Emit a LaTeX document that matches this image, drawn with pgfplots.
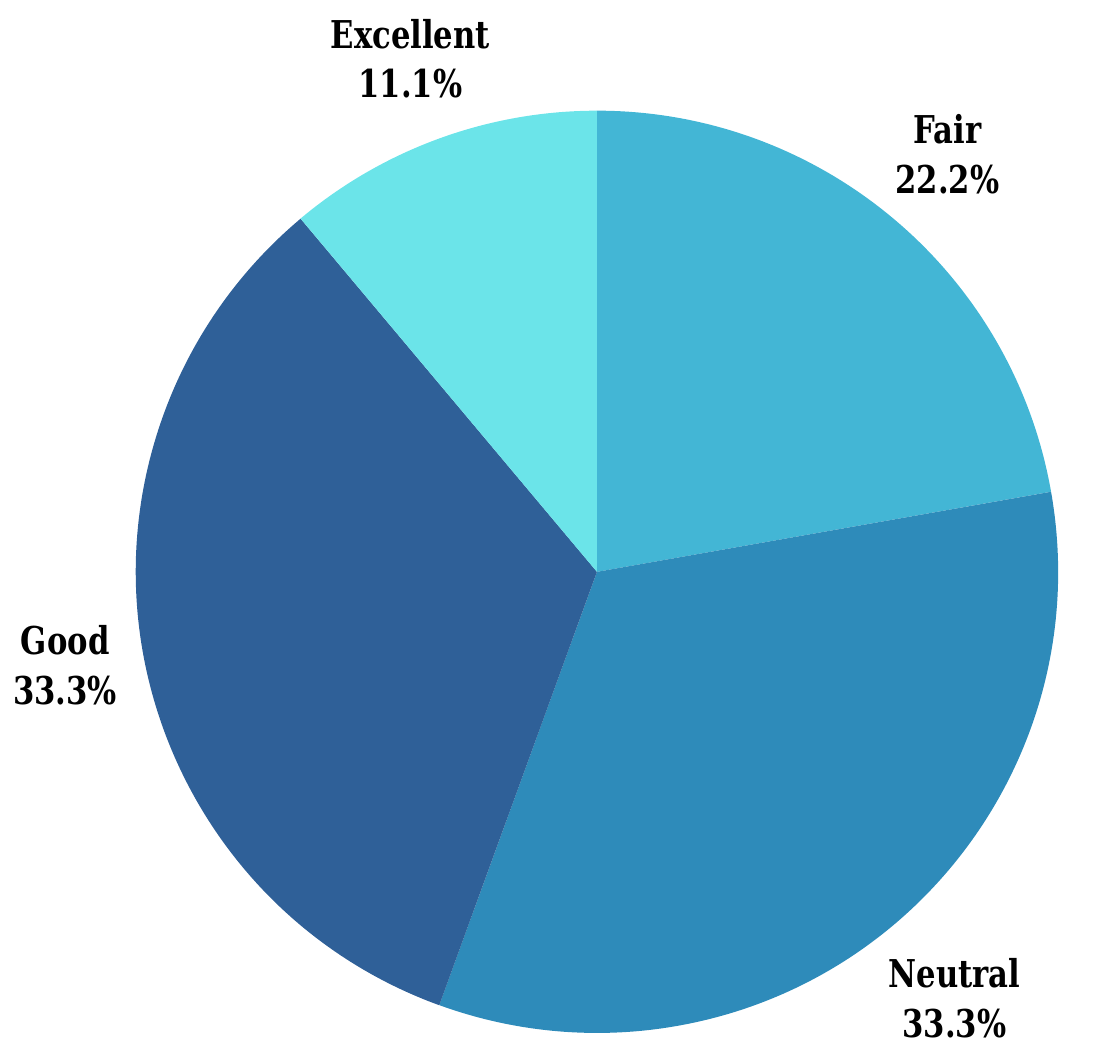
\documentclass[border=0pt]{standalone}
\usepackage{fontspec}
\setmainfont{DejaVu Serif}[FakeStretch=0.8]
\usepackage{pgfplots}
\usepackage{pgfplotstable}
\pgfplotsset{compat=1.18}

\definecolor{excellent}{HTML}{6BE4E9}
\definecolor{fair}{HTML}{43B6D5}
\definecolor{neutral}{HTML}{2E8BBA}
\definecolor{good}{HTML}{2F6098}

% responses per rating, listed clockwise from twelve o'clock;
% dist is the label distance from the centre, in radii
\pgfplotstableread{
label     value col       dist
Fair      2     fair      1.182
Neutral   3     neutral   1.206
Good      3     good      1.171
Excellent 1     excellent 1.184
}\ratings

\begin{document}
\begin{tikzpicture}
\begin{axis}[
  scale only axis,
  width=274.5pt, height=260.5pt,
  xmin=-1.290, xmax=1.0866,
  ymin=-1.015, ymax=1.240,
  hide axis, clip=false,
]
\path (rel axis cs:0,0) rectangle (rel axis cs:1,1);
\pgfmathsetmacro{\total}{9}
\gdef\cur{90}
\pgfplotsforeachungrouped \i in {0,...,3}{%
  \pgfplotstablegetelem{\i}{value}\of\ratings \let\v\pgfplotsretval
  \pgfplotstablegetelem{\i}{label}\of\ratings \let\lab\pgfplotsretval
  \pgfplotstablegetelem{\i}{col}\of\ratings \let\c\pgfplotsretval
  \pgfplotstablegetelem{\i}{dist}\of\ratings \let\d\pgfplotsretval
  \pgfmathsetmacro\sweep{360*\v/\total}
  \pgfmathsetmacro\nxt{\cur-\sweep}
  \pgfmathsetmacro\mid{\cur-\sweep/2}
  \pgfmathsetmacro\pct{100*\v/\total}
  \pgfmathprintnumberto[fixed,fixed zerofill,precision=1,assume math mode=true]{\pct}{\pcttxt}
  \pgfmathsetmacro\lx{\d*cos(\mid)}
  \pgfmathsetmacro\ly{\d*sin(\mid)}
  \pgfmathsetmacro\sx{cos(\cur)}
  \pgfmathsetmacro\sy{sin(\cur)}
  \edef\temp{%
    \noexpand\fill[\c] (axis cs:0,0) -- (axis cs:\sx,\sy)
      arc[start angle=\cur, end angle=\nxt, radius=115.5pt] -- cycle;
    \noexpand\node[align=center, font=\noexpand\bfseries\noexpand\fontsize{9.6}{12.5}\noexpand\selectfont]
      at (axis cs:\lx,\ly) {\lab\noexpand\\\pcttxt\noexpand\%};
  }%
  \temp
  \xdef\cur{\nxt}%
}
\end{axis}
\end{tikzpicture}
\end{document}
